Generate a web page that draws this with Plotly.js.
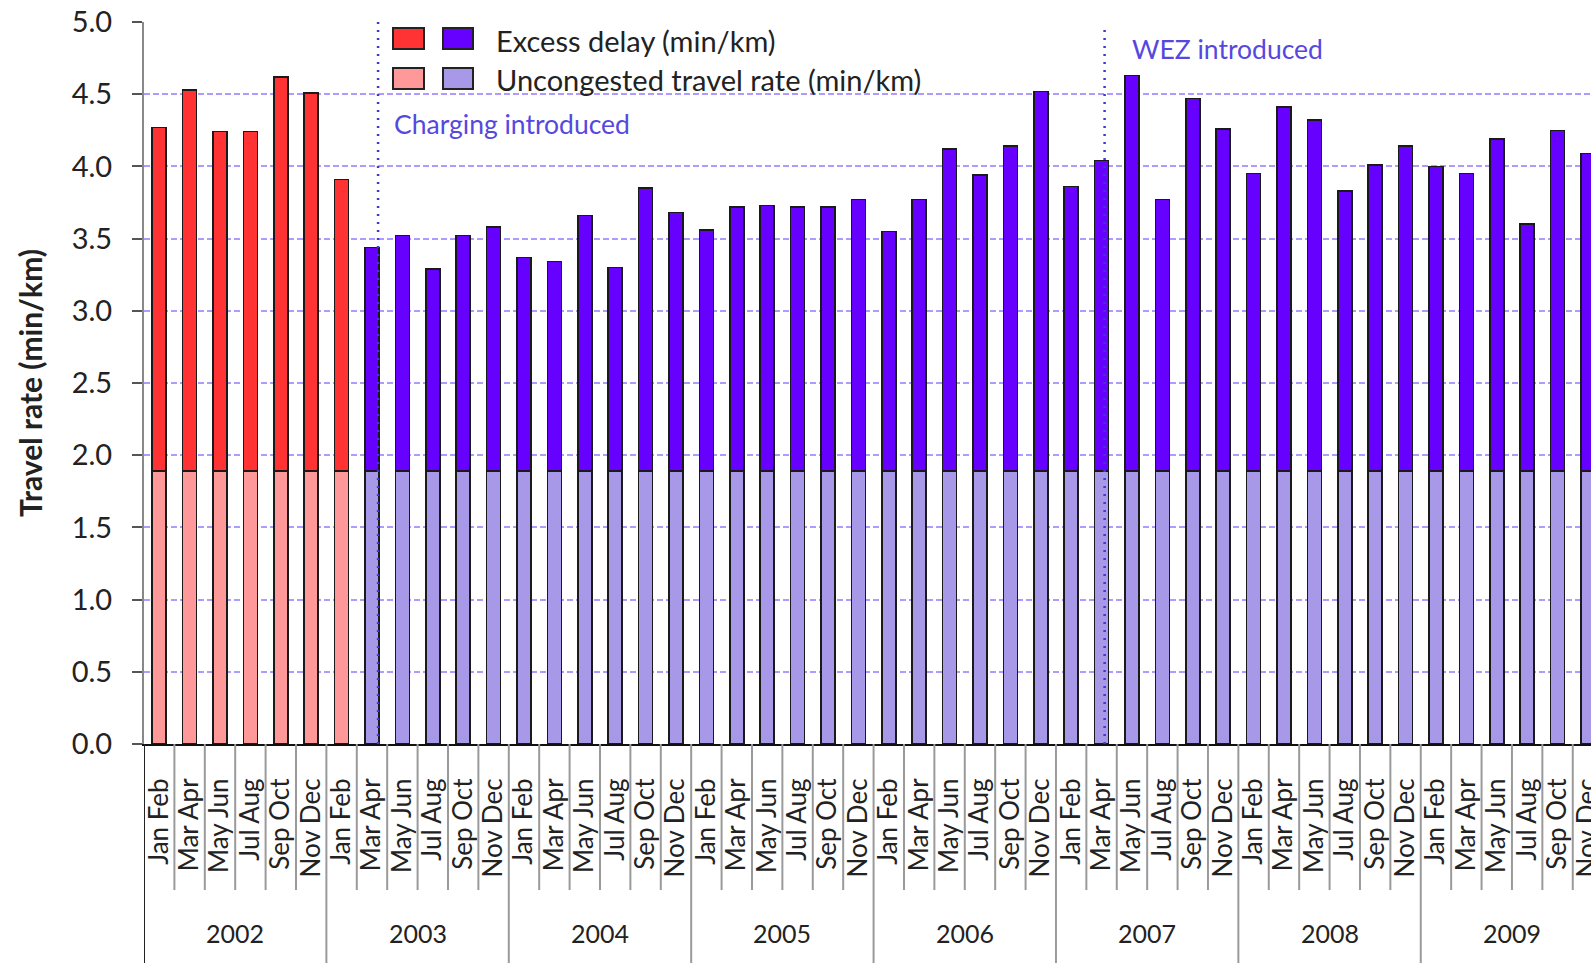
<!DOCTYPE html>
<html>
<head>
<meta charset="utf-8">
<script src="https://cdn.plot.ly/plotly-3.0.1.min.js"></script>
<style>html,body{margin:0;padding:0;background:#fff;}#chart{width:1591px;height:963px;}</style>
</head>
<body>
<div id="chart"></div>
<script>
// ---- data ----
const years = ['2002','2003','2004','2005','2006','2007','2008','2009'];
const months = ['Jan Feb','Mar Apr','May Jun','Jul Aug','Sep Oct','Nov Dec'];
// excess delay (min/km), bimonthly Jan-Feb 2002 .. Nov-Dec 2009
const excessDelay = [
  2.38, 2.64, 2.35, 2.35, 2.73, 2.62,
  2.02, 1.55, 1.63, 1.40, 1.63, 1.69,
  1.48, 1.45, 1.77, 1.41, 1.96, 1.79,
  1.67, 1.83, 1.84, 1.83, 1.83, 1.88,
  1.66, 1.88, 2.23, 2.05, 2.25, 2.63,
  1.97, 2.15, 2.74, 1.88, 2.58, 2.37,
  2.06, 2.52, 2.43, 1.94, 2.12, 2.25,
  2.11, 2.06, 2.30, 1.71, 2.36, 2.20
];
// uncongested travel rate (min/km)
const uncongested = [
  1.89, 1.89, 1.89, 1.89, 1.89, 1.89,
  1.89, 1.89, 1.89, 1.89, 1.89, 1.89,
  1.89, 1.89, 1.89, 1.89, 1.89, 1.89,
  1.89, 1.89, 1.89, 1.89, 1.89, 1.89,
  1.89, 1.89, 1.89, 1.89, 1.89, 1.89,
  1.89, 1.89, 1.89, 1.89, 1.89, 1.89,
  1.89, 1.89, 1.89, 1.89, 1.89, 1.89,
  1.89, 1.89, 1.89, 1.89, 1.89, 1.89
];
const preChargingPeriods = 7;   // Jan-Feb 2002 .. Jan-Feb 2003 shown in red
const eventLabels = ['Charging introduced', 'WEZ introduced'];
const eventPositions = [7.2, 31.1];
const legendLabels = ['Excess delay (min/km)', 'Uncongested travel rate (min/km)'];

// ---- build ----
const periodLabels = [];
years.forEach(() => months.forEach(m => periodLabels.push(m)));
const idx = periodLabels.map((_, i) => i);

const C = {
  red: '#ff3333', lightRed: '#ff9999',
  purple: '#6600ff', lightPurple: '#a899e8',
  grid: 'rgba(155,130,255,0.8)', event: '#3b3bd0', eventText: '#5548e0'
};
const excessColors = idx.map(i => i < preChargingPeriods ? C.red : C.purple);
const uncongColors = idx.map(i => i < preChargingPeriods ? C.lightRed : C.lightPurple);

const FONT = 'Lato, "Open Sans", sans-serif';
const W = 1591, H = 963, ML = 144, MR = 0, MT = 22, MB = 219;
const px = x => (x - ML) / (W - ML - MR);
const py = y => (H - MB - y) / (H - MB - MT);

const traces = [
  { type: 'bar', x: idx, y: uncongested, name: legendLabels[1],
    marker: { color: uncongColors, line: { color: '#1a1a1a', width: 1.5 } },
    hoverinfo: 'y', showlegend: false },
  { type: 'bar', x: idx, y: excessDelay, name: legendLabels[0],
    marker: { color: excessColors, line: { color: '#1a1a1a', width: 1.5 } },
    hoverinfo: 'y', showlegend: false }
];

const shapes = [];
// separators under the axis
for (let i = 0; i <= idx.length; i++) {
  const isYear = i % months.length === 0;
  shapes.push({ type: 'line', xref: 'x', yref: 'paper', x0: i - 0.5, x1: i - 0.5,
    y0: 0, y1: isYear ? py(H) : py(890),
    line: { color: i === 0 ? '#222' : '#9a9a9a', width: 2 }, layer: 'above' });
}
// event lines
eventPositions.forEach((p, k) => {
  shapes.push({ type: 'line', xref: 'x', yref: 'paper', x0: p, x1: p,
    y0: 0, y1: k === 0 ? 1 : py(29),
    line: { color: C.event, width: 2.5, dash: '2px,6px' }, layer: 'above' });
});
// legend swatches
const sw = [[393, 424], [443, 473]];
const rows = [[28, 49], [68, 89]];
const swColors = [[C.red, C.purple], [C.lightRed, C.lightPurple]];
rows.forEach((r, ri) => sw.forEach((s, si) => {
  shapes.push({ type: 'rect', xref: 'paper', yref: 'paper',
    x0: px(s[0]), x1: px(s[1]), y0: py(r[1]), y1: py(r[0]),
    fillcolor: swColors[ri][si], line: { color: '#222', width: 2 }, layer: 'above' });
}));

const annotations = [];
years.forEach((yr, k) => {
  annotations.push({ xref: 'x', yref: 'paper', x: k * months.length + (months.length - 1) / 2,
    y: py(933), text: yr, showarrow: false, xanchor: 'center', yanchor: 'middle',
    font: { family: FONT, size: 25, color: '#222' } });
});
legendLabels.forEach((t, k) => {
  annotations.push({ xref: 'paper', yref: 'paper', x: px(494), y: py(k === 0 ? 41 : 79),
    text: t, showarrow: false, xanchor: 'left', yanchor: 'middle',
    font: { family: FONT, size: 29, color: '#222' } });
});
annotations.push({ xref: 'paper', yref: 'paper', x: px(392), y: py(124), text: eventLabels[0],
  showarrow: false, xanchor: 'left', yanchor: 'middle', font: { family: FONT, size: 26.5, color: C.eventText } });
annotations.push({ xref: 'paper', yref: 'paper', x: px(1130), y: py(49), text: eventLabels[1],
  showarrow: false, xanchor: 'left', yanchor: 'middle', font: { family: FONT, size: 26.5, color: C.eventText } });

const layout = {
  width: W, height: H,
  margin: { l: ML, r: MR, t: MT, b: MB, pad: 0 },
  paper_bgcolor: '#fff', plot_bgcolor: '#fff',
  barmode: 'stack', bargap: 0.54,
  font: { family: FONT, color: '#222' },
  showlegend: false,
  xaxis: {
    range: [-0.5, 47.1], tickmode: 'array', tickvals: idx, ticktext: periodLabels,
    tickangle: -90, ticks: '', showgrid: false, zeroline: false,
    showline: true, linecolor: '#111', linewidth: 2,
    ticklabelstandoff: 22, ticklabeloverflow: 'allow',
    tickfont: { family: FONT, size: 26, color: '#222' }
  },
  yaxis: {
    range: [0, 5], dtick: 0.5, tickformat: '.1f',
    ticks: 'outside', ticklen: 10, tickwidth: 2, tickcolor: '#555',
    showline: true, linecolor: '#888', linewidth: 2,
    showgrid: true, gridcolor: C.grid, gridwidth: 2, griddash: '6px,3px',
    zeroline: false,
    ticklabelstandoff: 14,
    tickfont: { family: FONT, size: 29, color: '#222' },
    title: { text: '<b>Travel rate (min/km)</b>', standoff: 20,
      font: { family: FONT, size: 30, color: '#222' } }
  },
  shapes: shapes,
  annotations: annotations
};

Plotly.newPlot('chart', traces, layout, { displayModeBar: false, staticPlot: true });
</script>
</body>
</html>
